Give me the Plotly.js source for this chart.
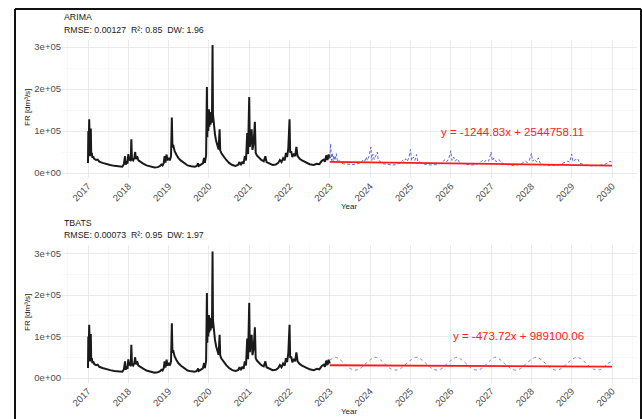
<!DOCTYPE html>
<html>
<head>
<meta charset="utf-8">
<script src="https://cdn.plot.ly/plotly-3.0.1.min.js"></script>
<style>
html,body{margin:0;padding:0;background:#fff;}
#chart{width:642px;height:419px;}
</style>
</head>
<body>
<div id="chart"></div>
<script>
// Observed flow rate FR (values in thousands of dm3/s), decimal years
const histYear = [
2017.00,2017.008,2017.015,2017.022,2017.03,2017.037,2017.045,2017.052,2017.06,2017.07,2017.08,2017.095,2017.11,2017.13,2017.15,2017.2,2017.24,2017.28,2017.36,2017.45,2017.55,2017.65,2017.74,2017.8,2017.85,2017.89,2017.92,2017.935,2017.96,2017.98,
2018.0,2018.02,2018.04,2018.06,2018.075,2018.09,2018.12,2018.15,2018.17,2018.19,2018.22,2018.25,2018.3,2018.36,2018.45,2018.55,2018.65,2018.73,2018.78,2018.82,2018.85,2018.88,2018.9,2018.92,2018.95,2018.97,
2019.0,2019.03,2019.06,2019.08,2019.095,2019.12,2019.15,2019.19,2019.24,2019.3,2019.38,2019.47,2019.56,2019.65,2019.7,2019.73,2019.75,2019.8,2019.85,2019.88,2019.9,2019.93,2019.95,2019.96,2019.97,2019.985,
2020.0,2020.01,2020.025,2020.04,2020.06,2020.075,2020.09,2020.1,2020.115,2020.13,2020.15,2020.18,2020.21,2020.24,2020.265,2020.28,2020.31,2020.36,2020.43,2020.5,2020.58,2020.66,2020.72,2020.76,2020.79,2020.83,2020.86,2020.89,2020.92,2020.95,2020.97,
2021.0,2021.015,2021.035,2021.06,2021.08,2021.11,2021.14,2021.16,2021.19,2021.24,2021.3,2021.36,2021.4,2021.43,2021.5,2021.58,2021.66,2021.72,2021.76,2021.8,2021.84,2021.88,2021.91,2021.94,2021.97,
2022.0,2022.015,2022.04,2022.07,2022.11,2022.14,2022.17,2022.2,2022.25,2022.31,2022.4,2022.5,2022.6,2022.68,2022.74,2022.8,2022.85,2022.88,2022.91,2022.94,2022.97,2023.0];
const histFR = [
24,100,45,90,128,50,75,40,60,106,42,48,36,40,34,31,32,27,24,21,19,17,16,17,15,21,40,20,28,22,
45,30,38,28,80,34,30,36,50,33,40,30,26,23,18,15,13,14,16,20,18,24,40,25,44,30,
36,30,40,132,62,64,52,44,36,30,24,18,16,15,17,23,17,20,23,36,24,42,205,85,140,100,
152,110,145,115,135,120,305,140,118,105,92,76,64,56,104,54,47,39,31,24,19,17,19,26,19,27,22,40,30,95,45,
181,62,82,104,55,72,122,48,42,36,31,28,40,26,22,19,20,24,31,26,35,30,48,38,60,
128,48,52,38,46,40,62,40,34,30,25,21,19,22,21,29,32,27,42,31,44,35];

// ARIMA forecast (thousands)
const arimaYear = [
2023.0,2023.02,2023.04,2023.06,2023.08,2023.1,2023.13,2023.16,2023.19,2023.23,2023.28,2023.33,2023.45,2023.55,2023.65,2023.75,2023.82,2023.86,2023.9,2023.93,2023.97,
2024.02,2024.04,2024.07,2024.1,2024.14,2024.18,2024.2,2024.25,2024.32,2024.45,2024.55,2024.65,2024.75,2024.8,2024.84,2024.88,2024.92,2024.96,
2025.0,2025.03,2025.07,2025.11,2025.15,2025.18,2025.25,2025.35,2025.5,2025.65,2025.75,2025.8,2025.86,2025.9,2025.95,
2026.0,2026.03,2026.07,2026.11,2026.16,2026.22,2026.35,2026.5,2026.62,2026.72,2026.78,2026.83,2026.88,2026.94,
2027.0,2027.03,2027.07,2027.12,2027.2,2027.25,2027.4,2027.55,2027.65,2027.75,2027.85,2027.9,2027.95,
2028.0,2028.03,2028.08,2028.13,2028.17,2028.22,2028.35,2028.5,2028.65,2028.75,2028.83,2028.9,2028.95,
2029.0,2029.03,2029.08,2029.15,2029.2,2029.35,2029.5,2029.65,2029.8,2029.9,2029.95,2030.0];
const arimaFR = [
35,70,30,48,28,42,30,46,27,30,24,22,21,20,21,24,30,26,38,30,40,
62,30,45,32,40,50,30,28,22,20,19,20,24,30,27,34,28,36,
56,30,38,30,44,28,25,21,19,20,23,28,32,27,34,
53,30,38,28,34,25,21,19,20,24,30,26,31,28,
50,29,36,27,32,24,20,18,19,22,28,25,30,
47,28,33,26,36,23,19,18,19,22,26,28,26,
45,27,31,34,23,19,17,18,20,24,28,26];

// TBATS forecast (thousands)
const tbatsYear = [2023.0,2023.13,2023.255,2023.38,2023.505,2023.63,2023.755,2023.88,
2024.005,2024.12,2024.25,2024.38,2024.5,2024.63,2024.76,2024.89,
2025.02,2025.16,2025.28,2025.41,2025.53,2025.66,2025.78,2025.9,
2026.03,2026.15,2026.27,2026.4,2026.52,2026.65,2026.77,2026.89,
2027.0,2027.1,2027.23,2027.36,2027.49,2027.61,2027.74,2027.86,
2027.99,2028.12,2028.25,2028.37,2028.5,2028.62,2028.75,2028.87,
2029.0,2029.13,2029.26,2029.38,2029.51,2029.63,2029.76,2029.88,2030.0];
const tbatsFR = [43,50,44,33,23,19,23,34,
44,50,44,33,23,19,23,34,
44,50,44,33,23,19,23,34,
44,50,44,33,23,19,23,34,
44,50,44,33,23,19,23,34,
44,50,44,33,23,19,23,34,
44,50,44,33,23,19,23,34,40];

// Linear trends (thousands)
const trendYear = [2023, 2030];
const arimaTrend = [26.47, 17.75];
const tbatsTrend = [30.76, 27.45];

const yTickVals = [0, 100000, 200000, 300000];
const yTickText = ["0e+00", "1e+05", "2e+05", "3e+05"];
const xTickVals = [2017,2018,2019,2020,2021,2022,2023,2024,2025,2026,2027,2028,2029,2030];
const xTickText = xTickVals.map(String);

const K = v => v.map(a => a * 1000);
const W = 642, H = 419;
const px = x => x / W, py = y => 1 - y / H;

const blk = {color:'#1a1a1a', width:2};
const traces = [
  {x: histYear, y: K(histFR), xaxis:'x', yaxis:'y', mode:'lines', line: blk},
  {x: arimaYear, y: K(arimaFR), xaxis:'x', yaxis:'y', mode:'lines', line:{color:'#4a5fd4', width:0.9, dash:'3px,2px'}},
  {x: trendYear, y: K(arimaTrend), xaxis:'x', yaxis:'y', mode:'lines', line:{color:'#ff1a1a', width:1.8}},
  {x: histYear, y: K(histFR), xaxis:'x2', yaxis:'y2', mode:'lines', line: blk},
  {x: tbatsYear, y: K(tbatsFR), xaxis:'x2', yaxis:'y2', mode:'lines', line:{color:'#8a7fd8', width:1, dash:'dot', shape:'spline', smoothing:1}},
  {x: trendYear, y: K(tbatsTrend), xaxis:'x2', yaxis:'y2', mode:'lines', line:{color:'#ff1a1a', width:1.8}}
];

const tickFont = {family:'Liberation Sans, Arial, sans-serif', size:9.5, color:'#4d4d4d'};
const grid = '#e6e6e6', minorGrid = '#f2f2f2';
function xa(anchor){
  return {domain:[px(62), px(637)], range:[2016.355, 2030.62], anchor: anchor,
    tickmode:'array', tickvals:xTickVals, ticktext:xTickText, tickangle:-45,
    tickfont:tickFont, showgrid:true, gridcolor:grid, gridwidth:0.8, zeroline:false,
    showline:false, ticks:'', minor:{dtick:0.5, tick0:2017, showgrid:true, gridcolor:minorGrid, gridwidth:0.5}};
}
function ya(anchor, dom, rng){
  return {domain:dom, range:rng, anchor: anchor, tickmode:'array', tickvals:yTickVals, ticktext:yTickText,
    tickfont:tickFont, showgrid:true, gridcolor:grid, gridwidth:0.8, zeroline:false, showline:false, ticks:'',
    minor:{dtick:50000, tick0:0, showgrid:true, gridcolor:minorGrid, gridwidth:0.5}};
}
const tf = {family:'Liberation Sans, Arial, sans-serif', size:8.8, color:'#1a1a1a'};
const af = {family:'Liberation Sans, Arial, sans-serif', size:8, color:'#1a1a1a'};
const ef = {family:'Liberation Sans, Arial, sans-serif', size:11.5, color:'#ff2020'};
const nb = '\u00a0';
const layout = {
  width:W, height:H, margin:{l:0,r:0,t:0,b:0}, paper_bgcolor:'#fff', plot_bgcolor:'#fff', showlegend:false,
  xaxis: xa('y'), yaxis: ya('x', [py(178), py(40)], [-11905, 316667]),
  xaxis2: xa('y2'), yaxis2: ya('x2', [py(383), py(245)], [-12048, 320482]),
  annotations:[
    {text:'ARIMA', x:px(62), y:py(17), xref:'paper', yref:'paper', xanchor:'left', yanchor:'middle', showarrow:false, font:tf},
    {text:'RMSE: 0.00127'+nb+nb+'R²: 0.85'+nb+nb+'DW: 1.96', x:px(62), y:py(30), xref:'paper', yref:'paper', xanchor:'left', yanchor:'middle', showarrow:false, font:tf},
    {text:'TBATS', x:px(62), y:py(223), xref:'paper', yref:'paper', xanchor:'left', yanchor:'middle', showarrow:false, font:tf},
    {text:'RMSE: 0.00073'+nb+nb+'R²: 0.95'+nb+nb+'DW: 1.97', x:px(62), y:py(235), xref:'paper', yref:'paper', xanchor:'left', yanchor:'middle', showarrow:false, font:tf},
    {text:'Year', x:px(349.5), y:py(207), xref:'paper', yref:'paper', xanchor:'center', yanchor:'middle', showarrow:false, font:af},
    {text:'Year', x:px(349.5), y:py(411.5), xref:'paper', yref:'paper', xanchor:'center', yanchor:'middle', showarrow:false, font:af},
    {text:'FR [dm³/s]', x:px(27), y:py(108), xref:'paper', yref:'paper', xanchor:'center', yanchor:'middle', textangle:-90, showarrow:false, font:af},
    {text:'FR [dm³/s]', x:px(27), y:py(313), xref:'paper', yref:'paper', xanchor:'center', yanchor:'middle', textangle:-90, showarrow:false, font:af},
    {text:'y = -1244.83x + 2544758.11', x:2027.52, y:97600, xref:'x', yref:'y', xanchor:'center', yanchor:'middle', showarrow:false, font:ef},
    {text:'y = -473.72x + 989100.06', x:2027.67, y:101000, xref:'x2', yref:'y2', xanchor:'center', yanchor:'middle', showarrow:false, font:ef}
  ],
  shapes:[
    {type:'line', xref:'paper', yref:'paper', x0:px(15), x1:px(641), y0:py(9), y1:py(9), line:{color:'#111', width:2}},
    {type:'line', xref:'paper', yref:'paper', x0:px(15), x1:px(15), y0:py(9), y1:0, line:{color:'#111', width:2}},
    {type:'line', xref:'paper', yref:'paper', x0:px(641), x1:px(641), y0:py(9), y1:0, line:{color:'#111', width:2}}
  ]
};
Plotly.newPlot('chart', traces, layout, {displayModeBar:false, staticPlot:true});
</script>
</body>
</html>
